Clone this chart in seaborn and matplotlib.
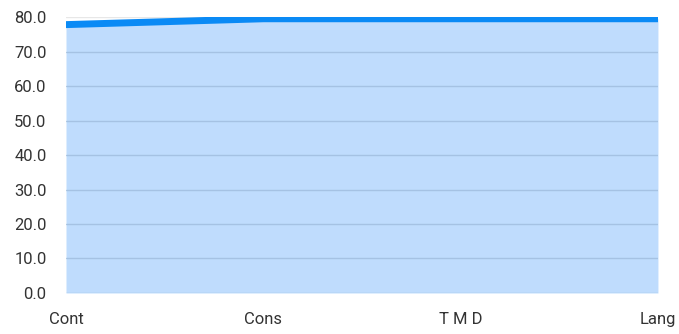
import numpy as np
import pandas as pd
import matplotlib.pyplot as plt
import seaborn as sns

categories = ["Cont", "Cons", "T M D", "Lang"]
values = [77.8, 79.5, 79.5, 79.5]
y_ticks = [0, 10, 20, 30, 40, 50, 60, 70, 80]

sns.set_style("white")
plt.rcParams['font.family'] = ['Roboto', 'DejaVu Sans']

df = pd.DataFrame({"cat": categories, "val": values, "pos": range(len(categories))})

fig = plt.figure(figsize=(6.79, 3.34), dpi=100)
ax = fig.add_axes([0.0972, 0.1228, 0.8718, 0.8262])

ax.fill_between(df["pos"], 0, df["val"], color="#bfdcfd", zorder=1, linewidth=0)
sns.lineplot(data=df, x="pos", y="val", ax=ax, color="#0a8af5", linewidth=5, zorder=3)

for t in y_ticks:
    ax.axhline(t, color="#9ab8d8" if t < 80 else "#dddddd", linewidth=1, alpha=0.7, zorder=2)

ax.set_xlim(0, len(categories) - 1)
ax.set_ylim(0, 80)
ax.set_yticks(y_ticks)
ax.set_yticklabels([f"{t:.1f}" for t in y_ticks])
ax.set_xticks(df["pos"])
ax.set_xticklabels(categories)
ax.set_xlabel("")
ax.set_ylabel("")
for s in ax.spines.values():
    s.set_visible(False)
ax.tick_params(axis="x", length=6, width=1, color="#dddddd", pad=8, labelsize=12, labelcolor="#333333")
ax.tick_params(axis="y", length=0, pad=14, labelsize=12, labelcolor="#333333")

fig.savefig("out.png", dpi=100)
